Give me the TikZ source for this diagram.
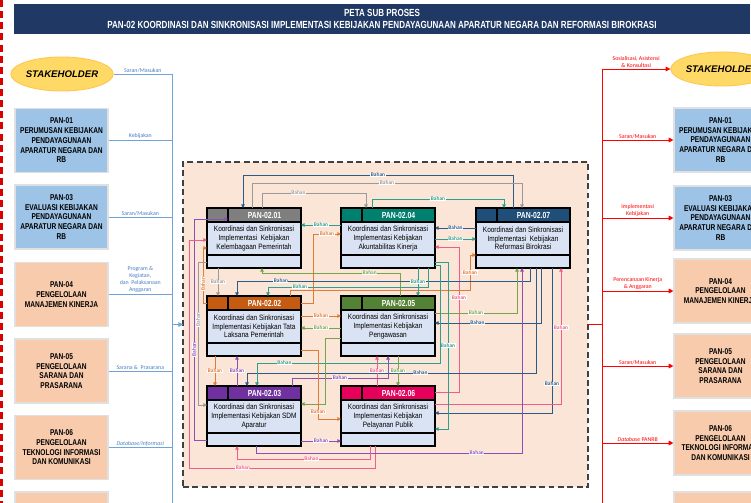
\documentclass[tikz,border=0pt]{standalone}
\usepackage{fontspec}
\setmainfont{Liberation Sans}
\newfontfamily\narrowfont[FakeStretch=0.84]{Liberation Sans}
\newfontfamily\condfont[FakeStretch=0.78]{Liberation Sans}
\newfontfamily\calfont{Carlito}
\usetikzlibrary{shapes.geometric,arrows.meta}

\definecolor{navy}{HTML}{1F3864}
\definecolor{hgray}{HTML}{7F7F7F}
\definecolor{hteal}{HTML}{00806F}
\definecolor{hblue}{HTML}{1F4E79}
\definecolor{horange}{HTML}{C55A11}
\definecolor{hgreen}{HTML}{548235}
\definecolor{hpurple}{HTML}{7030A0}
\definecolor{hpink}{HTML}{E6005C}
\definecolor{kgray}{HTML}{9A9A9A}
\definecolor{kteal}{HTML}{2E9E8E}
\definecolor{kblue}{HTML}{2E5A88}
\definecolor{korange}{HTML}{E07B39}
\definecolor{kgreen}{HTML}{76A34B}
\definecolor{kpurple}{HTML}{8E4FB5}
\definecolor{kpink}{HTML}{F25C8C}
\definecolor{bodyc}{HTML}{DAE3F3}
\definecolor{peach}{HTML}{FBE5D6}
\definecolor{sblue}{HTML}{9DC3E6}
\definecolor{sorange}{HTML}{F8CBAD}
\definecolor{yel}{HTML}{FFD966}
\definecolor{lineblue}{HTML}{6FA3DA}
\definecolor{txtblue}{HTML}{4A7EC0}

% kotak sub proses: nama, x, y, warna, kode, uraian
\newcommand{\procbox}[6]{%
  \node[pcell, fill=#4] (#1a) at (#2,#3) {};
  \node[phead, fill=#4] (#1h) at (#1a.north east) {#5};
  \node[pbody] (#1) at (#1a.south west) {#6};
  \node[pfoot] (#1f) at (#1.south west) {};
}

\begin{document}
\begin{tikzpicture}[x=0.03cm,y=-0.03cm]
\tikzset{
  pcell/.style={draw=black, line width=0.9pt, anchor=north west, minimum width=0.63cm, minimum height=0.42cm, inner sep=0pt, outer sep=0pt},
  phead/.style={pcell, minimum width=2.19cm, text=white, font=\condfont\bfseries\fontsize{7.5}{8}\selectfont},
  pbody/.style={pcell, fill=bodyc, minimum width=2.82cm, minimum height=0.99cm, align=center, font=\narrowfont\fontsize{6.6}{7.3}\selectfont},
  pfoot/.style={pcell, fill=bodyc, minimum width=2.82cm, minimum height=0.39cm},
  sidebox/.style={draw=black!12, line width=1pt, minimum width=2.79cm, minimum height=1.92cm, inner sep=0pt, align=center, font=\condfont\bfseries\fontsize{7.2}{8.3}\selectfont},
  blubox/.style={sidebox, fill=sblue},
  orabox/.style={sidebox, fill=sorange},
  stake/.style={ellipse, draw=yel!80!orange, line width=0.8pt, fill=yel, minimum width=2.82cm, minimum height=1.02cm, inner sep=0pt, font=\bfseries\itshape\fontsize{8.2}{9}\selectfont},
  con/.style={line width=0.6pt, -{Triangle[length=3pt,width=3pt]}},
  cgr/.style={con, color=kgray}, cbl/.style={con, color=kblue},
  ctl/.style={con, color=kteal}, cor/.style={con, color=korange},
  cgn/.style={con, color=kgreen}, cpu/.style={con, color=kpurple},
  cpk/.style={con, color=kpink},
  bh/.style={fill=white, inner sep=0.4pt, font=\calfont\bfseries\fontsize{4.6}{5}\selectfont},
  lline/.style={draw=lineblue, line width=0.8pt},
  rline/.style={draw=red, line width=0.8pt},
  llbl/.style={text=txtblue, align=center, inner sep=1pt, font=\calfont\fontsize{5}{6}\selectfont},
  rlbl/.style={text=red, align=center, inner sep=1pt, font=\calfont\fontsize{5}{6}\selectfont}
}
\useasboundingbox (0,0) rectangle (751,503);
\clip (0,0) rectangle (751,503);

% judul
\draw[red!85!black, line width=2.4pt, dash pattern=on 6pt off 3.5pt] (1.5,0) -- (1.5,503);
\node[fill=navy, minimum width=22.08cm, minimum height=0.9cm, text=white, align=center,
  font=\condfont\bfseries\fontsize{8.8}{10}\selectfont] (title) at (382,19)
  {PETA SUB PROSES\\PAN-02 KOORDINASI DAN SINKRONISASI IMPLEMENTASI KEBIJAKAN PENDAYAGUNAAN APARATUR NEGARA DAN REFORMASI BIROKRASI};

% sisi kiri
\node[stake] (stl) at (62,74) {STAKEHOLDER};
\node[blubox] (l01) at (61.5,140.5) {PAN-01\\PERUMUSAN KEBIJAKAN\\PENDAYAGUNAAN\\APARATUR NEGARA DAN\\RB};
\node[blubox] (l03) at (61.5,217) {PAN-03\\EVALUASI KEBIJAKAN\\PENDAYAGUNAAN\\APARATUR NEGARA DAN\\RB};
\node[orabox] (l04) at (61.5,294.5) {PAN-04\\PENGELOLAAN\\MANAJEMEN KINERJA};
\node[orabox] (l05) at (61.5,371) {PAN-05\\PENGELOLAAN\\SARANA DAN\\PRASARANA};
\node[orabox] (l06) at (61.5,447.5) {PAN-06\\PENGELOLAAN\\TEKNOLOGI INFORMASI\\DAN KOMUNIKASI};
\node[orabox] (l07) at (61.5,524) {};

% sisi kanan
\node[stake] (str) at (722,69) {STAKEHOLDER};
\node[blubox] (r01) at (720.5,140) {PAN-01\\PERUMUSAN KEBIJAKAN\\PENDAYAGUNAAN\\APARATUR NEGARA DAN\\RB};
\node[blubox] (r03) at (720.5,218) {PAN-03\\EVALUASI KEBIJAKAN\\PENDAYAGUNAAN\\APARATUR NEGARA DAN\\RB};
\node[orabox] (r04) at (720.5,291) {PAN-04\\PENGELOLAAN\\MANAJEMEN KINERJA};
\node[orabox] (r05) at (720.5,366) {PAN-05\\PENGELOLAAN\\SARANA DAN\\PRASARANA};
\node[orabox] (r06) at (720.5,443) {PAN-06\\PENGELOLAAN\\TEKNOLOGI INFORMASI\\DAN KOMUNIKASI};
\node[orabox] (r07) at (720.5,524) {};

% area sub proses
\node[draw=black!75, line width=1.3pt, dash pattern=on 5pt off 3pt, fill=peach,
  minimum width=12.15cm, minimum height=9.75cm, inner sep=0pt, outer sep=0pt] (frame) at (385.5,324.5) {};

\procbox{p01}{207}{208}{hgray}{PAN-02.01}{Koordinasi dan Sinkronisasi\\Implementasi\ \ Kebijakan\\Kelembagaan Pemerintah}
\procbox{p04}{341}{208}{hteal}{PAN-02.04}{Koordinasi dan Sinkronisasi\\Implementasi Kebijakan\\Akuntabilitas Kinerja}
\procbox{p07}{476}{208}{hblue}{PAN-02.07}{Koordinasi dan Sinkronisasi\\Implementasi\ \ Kebijakan\\Reformasi Birokrasi}
\procbox{p02}{207}{296}{horange}{PAN-02.02}{Koordinasi dan Sinkronisasi\\Implementasi Kebijakan Tata\\Laksana Pemerintah}
\procbox{p05}{341}{296}{hgreen}{PAN-02.05}{Koordinasi dan Sinkronisasi\\Implementasi Kebijakan\\Pengawasan}
\procbox{p03}{207}{386}{hpurple}{PAN-02.03}{Koordinasi dan Sinkronisasi\\Implementasi Kebijakan SDM\\Aparatur}
\procbox{p06}{341}{386}{hpink}{PAN-02.06}{Koordinasi dan Sinkronisasi\\Implementasi Kebijakan\\Pelayanan Publik}

% masukan
\coordinate (lt) at (172,503);
\draw[lline] (stl.east) -- node[llbl, above]{Saran/Masukan} (stl.east -| lt) -- (lt);
\draw[lline] (l01.east) -- node[llbl, above]{Kebijakan} (l01.east -| lt);
\draw[lline] (l03.east) -- node[llbl, above]{Saran/Masukan} (l03.east -| lt);
\draw[lline] (l04.east) -- node[llbl, above]{Program \&\\Kegiatan,\\dan\ \ Pelaksanaan\\Anggaran} (l04.east -| lt);
\draw[lline] (l05.east) -- node[llbl, above]{Sarana \&\ \ Prasarana} (l05.east -| lt);
\draw[lline] (l06.east) -- node[llbl, above]{\itshape Database/Informasi} (l06.east -| lt);
\draw[lline] (l07.east) -- node[llbl, above]{Perencanaan,} (l07.east -| lt);
\draw[lline, -{Triangle[length=4pt,width=4pt]}] (frame.west -| lt) -- (frame.west);

% keluaran
\coordinate (rt) at (602,503);
\draw[rline] (frame.east) -- (frame.east -| rt);
\draw[rline] (str.west -| rt) -- (rt);
\draw[rline, -{Triangle[length=4pt,width=4pt]}] (str.west -| rt) -- node[rlbl, above]{Sosialisasi, Asistensi\\\&\ Konsultasi} (str.west);
\draw[rline, -{Triangle[length=4pt,width=4pt]}] (r01.west -| rt) -- node[rlbl, above]{Saran/Masukan} (r01.west);
\draw[rline, -{Triangle[length=4pt,width=4pt]}] (r03.west -| rt) -- node[rlbl, above]{Implementasi\\Kebijakan} (r03.west);
\draw[rline, -{Triangle[length=4pt,width=4pt]}] (r04.west -| rt) -- node[rlbl, above]{Perencanaan Kinerja\\\&\ Anggaran} (r04.west);
\draw[rline, -{Triangle[length=4pt,width=4pt]}] (r05.west -| rt) -- node[rlbl, above]{Saran/Masukan} (r05.west);
\draw[rline, -{Triangle[length=4pt,width=4pt]}] (r06.west -| rt) -- node[rlbl, above]{\textit{Database} PANRB} (r06.west);
\draw[rline, -{Triangle[length=4pt,width=4pt]}] (r07.west -| rt) -- (r07.west);

% aliran bahan antar sub proses
\draw[cbl] (513,0 |- p07h.north) -- (513,175) -- node[bh]{Bahan} (243,175) -- (243,0 |- p01h.north);
\draw[cgr] (252,0 |- p01h.north) -- (252,183) -- node[bh]{Bahan} (522,183) -- (522,0 |- p07h.north);
\draw[cgr] (262,0 |- p01h.north) -- (262,193) -- node[bh,pos=.35]{Bahan} (366,193) -- (366,0 |- p04h.north);
\draw[ctl] (372,0 |- p04h.north) -- (372,199) -- node[bh]{Bahan} (504,199) -- (504,0 |- p07h.north);
\draw[ctl] (p04.west |- 0,225) -- node[bh]{Bahan} (p01.east |- 0,225);
\draw[cbl] (p07.west |- 0,228) -- node[bh]{Bahan} (p04.east |- 0,228);
\draw[ctl] (p04.east |- 0,239) -- node[bh]{Bahan} (p07.west |- 0,239);
\draw[cor] (p02h.east |- 0,303) -- (313,303) -- (313,234) -- node[bh]{Bahan} (p04.west |- 0,234);
\draw[cpk] (p06h.east |- 0,392) -- (459,392) -- node[bh,pos=.65]{Bahan} (459,247) -- (p04.east |- 0,247);
\draw[cor] (290,0 |- p02h.north) -- (290,290) -- (470,290) -- node[bh]{Bahan} (470,255) -- (p07.west |- 0,255);
\draw[cpu] (p03f.west |- 0,440) -- (194,440) -- node[bh,rotate=90,pos=.41]{Bahan} (194,219) -- (p01h.west |- 0,219);
\draw[cpk] (375,0 |- p06f.south) -- (375,468) -- node[bh,pos=.71]{Bahan} (189,468) -- (189,240) -- (p01.west |- 0,240);
\draw[cor] (p02a.west |- 0,303) -- (203,303) -- node[bh,rotate=90,pos=.35]{Bahan} (203,248) -- (p01.west |- 0,248);
\draw[cgn] (400,0 |- p05h.north) -- (400,273) -- node[bh,pos=.22]{Bahan} (262,273) -- (262,0 |- p01f.south);
\draw[cgr] (218,0 |- p01f.south) -- node[bh]{Bahan} (218,0 |- p02a.north);
\draw[cbl] (530,0 |- p07f.south) -- (530,281) -- node[bh,pos=.85]{Bahan} (237,281) -- (237,0 |- p02h.north);
\draw[ctl] (428,0 |- p04f.south) -- (428,287) -- node[bh,pos=.8]{Bahan} (268,287) -- (268,0 |- p02h.north);
\draw[ctl] (418,0 |- p04f.south) -- node[bh]{Bahan} (418,0 |- p05h.north);
\draw[cor] (p02.east |- 0,316) -- node[bh]{Bahan} (p05.west |- 0,316);
\draw[cgn] (p05.west |- 0,328) -- node[bh]{Bahan} (p02.east |- 0,328);
\draw[cgn] (p05.east |- 0,313) -- node[bh]{Bahan} (517,313) -- (517,0 |- p07f.south);
\draw[cbl] (541,0 |- p07f.south) -- (541,323) -- node[bh,pos=.6]{Bahan} (p05.east |- 0,323);
\draw[cbl] (552,0 |- p07f.south) -- node[bh,pos=.8]{Bahan} (552,413) -- (p06.east |- 0,413);
\draw[cpk] (p06.east |- 0,404) -- (561,404) -- node[bh,pos=.56]{Bahan} (561,0 |- p07f.south);
\draw[ctl] (p04f.east |- 0,262) -- (448,262) -- node[bh]{Bahan} (448,429) -- (p06.east |- 0,429);
\draw[cpu] (256,0 |- p03f.south) -- (256,453) -- node[bh,pos=.83]{Bahan} (522,453) -- (522,0 |- p07f.south);
\draw[cor] (215,0 |- p02f.south) -- node[bh]{Bahan} (215,0 |- p03a.north);
\draw[cpu] (237,0 |- p03h.north) -- node[bh]{Bahan} (237,0 |- p02f.south);
\draw[cbl] (536,0 |- p07f.south) -- (536,373) -- node[bh,pos=.4]{Bahan} (247,373) -- (247,0 |- p03h.north);
\draw[ctl] (p04f.east |- 0,265) -- (440,265) -- (440,363) -- node[bh,pos=.85]{Bahan} (257,363) -- (257,0 |- p03h.north);
\draw[cpk] (377,0 |- p06h.north) -- node[bh]{Bahan} (377,0 |- p05f.south);
\draw[cpu] (292,0 |- p03h.north) -- (292,378) -- node[bh]{Bahan} (388,378) -- (388,0 |- p05f.south);
\draw[cgn] (398,0 |- p05f.south) -- node[bh]{Bahan} (398,0 |- p06h.north);
\draw[cgr] (p01f.west |- 0,262) -- (198,262) -- node[bh,rotate=90,pos=.4]{Bahan} (198,405) -- (p03.west |- 0,405);
\draw[cgn] (p05.west |- 0,338) -- (325,338) -- (325,404) -- (p03.east |- 0,404);
\draw[cor] (p02f.east |- 0,350) -- (318,350) -- node[bh,pos=.9]{Bahan} (318,419) -- (p06.west |- 0,419);
\draw[cpu] (p03f.east |- 0,441) -- node[bh]{Bahan} (p06f.west |- 0,441);
\draw[cpk] (370,0 |- p06f.south) -- (370,459) -- node[bh,pos=.44]{Bahan} (237,459) -- (237,0 |- p03f.south);
\end{tikzpicture}
\end{document}
